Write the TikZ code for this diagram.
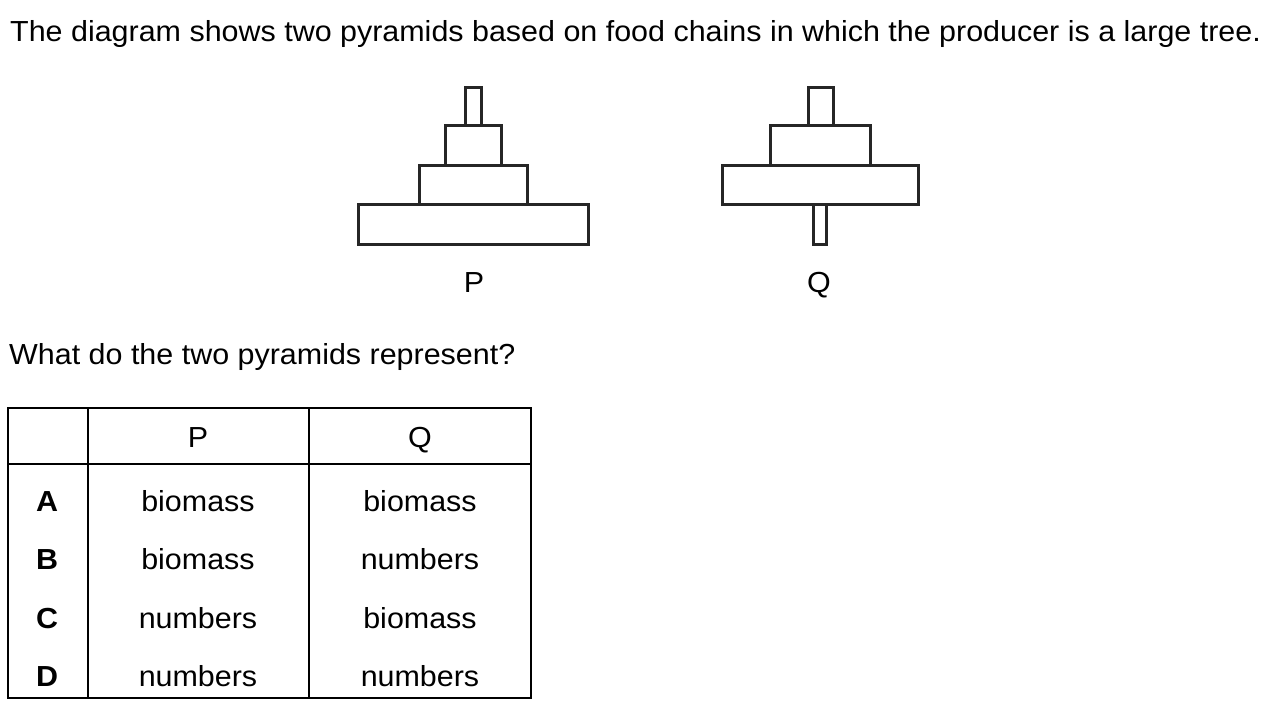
\documentclass[tikz,border=0pt]{standalone}
\usepackage{fontspec}
\setmainfont[FakeStretch=1.05]{Liberation Sans}
\begin{document}
\begin{tikzpicture}[x=1pt,y=-1pt,
  txt/.style={inner sep=0pt,font=\fontsize{29}{33}\selectfont},
  lvl/.style={draw=black!85,line width=3pt,fill=none},
  grid/.style={draw=black,line width=2.5pt}]
\useasboundingbox (0,0) rectangle (1267,714);
% title
\node[txt,anchor=base west] (title) at (10,42) {The diagram shows two pyramids based on food chains in which the producer is a large tree.};
% pyramid P
\draw[lvl] (358,205) rectangle (588,245);
\draw[lvl] (419,166) rectangle (527,205);
\draw[lvl] (445,126) rectangle (501,166);
\draw[lvl] (465,88) rectangle (481,126);
\node[txt,anchor=base] (labP) at (474,292) {P};
% pyramid Q
\draw[lvl] (722,166) rectangle (918,205);
\draw[lvl] (770,126) rectangle (870,166);
\draw[lvl] (808,88) rectangle (833,126);
\draw[lvl] (813,205) rectangle (826,245);
\node[txt,anchor=base] (labQ) at (819,292) {Q};
% question
\node[txt,anchor=base west] (q) at (9,364) {What do the two pyramids represent?};
% table
\draw[grid] (8,408) rectangle (531,698);
\draw[grid] (8,464) -- (531,464);
\draw[grid] (88,408) -- (88,698);
\draw[grid] (309,408) -- (309,698);
\node[txt,anchor=base] (hP) at (198,447) {P};
\node[txt,anchor=base] (hQ) at (420,447) {Q};
\foreach \l/\p/\q/\y in {A/biomass/biomass/511,B/biomass/numbers/569,C/numbers/biomass/628,D/numbers/numbers/686}{
  \node[txt,anchor=base,font=\fontsize{29}{33}\selectfont\bfseries] (row\l) at (47,\y) {\l};
  \node[txt,anchor=base] (p\l) at (198,\y) {\p};
  \node[txt,anchor=base] (q\l) at (420,\y) {\q};
}
\end{tikzpicture}
\end{document}
